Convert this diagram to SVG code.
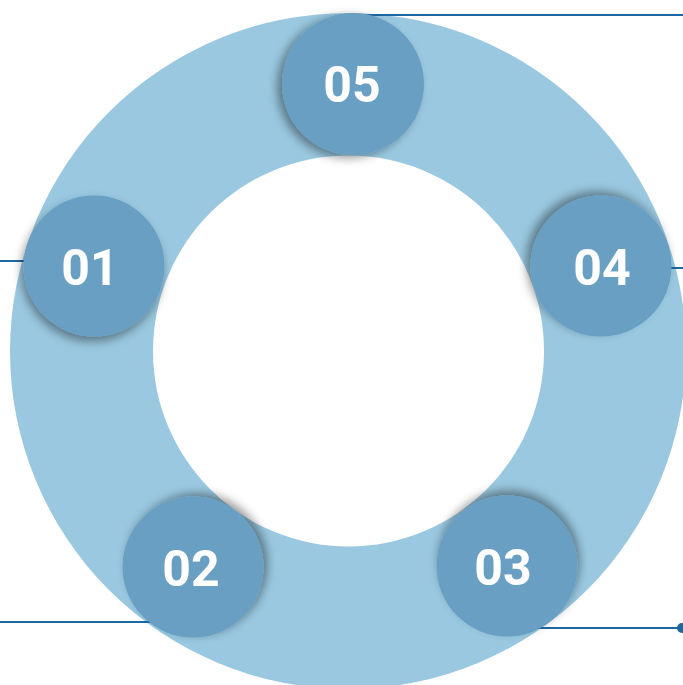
<svg xmlns="http://www.w3.org/2000/svg" width="683" height="685" viewBox="0 0 683 685">
<style>
.ring{fill:#99c8e0}
.hole{fill:#ffffff}
.node circle{fill:#679fc2}
.node text{fill:#ffffff;font-family:Roboto,"Liberation Sans",sans-serif;font-weight:700;font-size:50px;text-anchor:middle}
.conn line{stroke:#1d68a0;stroke-width:2}
</style>
<defs>
<filter id="s05" x="-40%" y="-40%" width="180%" height="180%"><feDropShadow dx="-5" dy="3" stdDeviation="5" flood-color="#000" flood-opacity="0.4"/></filter>
<filter id="s01" x="-40%" y="-40%" width="180%" height="180%"><feDropShadow dx="-2" dy="5" stdDeviation="5" flood-color="#000" flood-opacity="0.4"/></filter>
<filter id="s04" x="-40%" y="-40%" width="180%" height="180%"><feDropShadow dx="-4" dy="-4" stdDeviation="5" flood-color="#000" flood-opacity="0.4"/></filter>
<filter id="s02" x="-40%" y="-40%" width="180%" height="180%"><feDropShadow dx="4" dy="-3" stdDeviation="5" flood-color="#000" flood-opacity="0.4"/></filter>
<filter id="s03" x="-40%" y="-40%" width="180%" height="180%"><feDropShadow dx="2" dy="-5" stdDeviation="5" flood-color="#000" flood-opacity="0.4"/></filter>
</defs>
<rect width="683" height="685" fill="#ffffff"/>
<circle class="ring" cx="348" cy="351" r="338"/>
<circle class="hole" cx="348.5" cy="351" r="195.5"/>
<g id="connectors" class="conn">
<line x1="352" y1="15" x2="683" y2="15"/>
<line x1="0" y1="261" x2="30" y2="261"/>
<line x1="665" y1="268" x2="683" y2="268"/>
<line x1="0" y1="622" x2="155" y2="622"/>
<line x1="530" y1="628" x2="680" y2="628"/>
<circle cx="682" cy="628" r="5" fill="#1d68a0"/>
</g>
<g id="node05" class="node"><circle cx="353" cy="84" r="71" filter="url(#s05)"/><text x="352" y="102">05</text></g>
<g id="node01" class="node"><circle cx="94" cy="266" r="70.5" filter="url(#s01)"/><text x="90" y="285">01</text></g>
<g id="node04" class="node"><circle cx="601" cy="266" r="70.5" filter="url(#s04)"/><text x="602" y="285">04</text></g>
<g id="node02" class="node"><circle cx="193" cy="567" r="70.5" filter="url(#s02)"/><text x="191" y="586">02</text></g>
<g id="node03" class="node"><circle cx="507" cy="566" r="70.5" filter="url(#s03)"/><text x="503" y="585">03</text></g>
</svg>
